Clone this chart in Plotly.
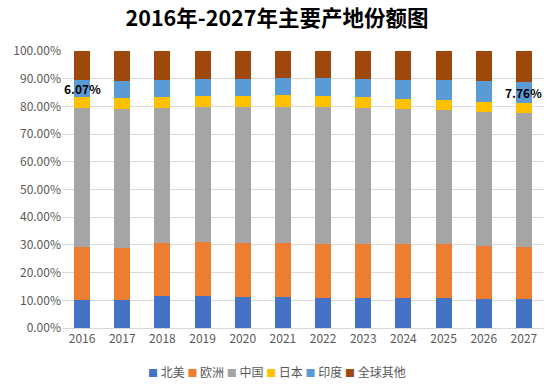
import plotly.graph_objects as go

years = ["2016", "2017", "2018", "2019", "2020", "2021", "2022", "2023", "2024", "2025", "2026", "2027"]
north_america = [10.1, 10.1, 11.6, 11.6, 11.2, 11.2, 10.8, 10.8, 10.8, 10.8, 10.5, 10.5]
europe = [19.3, 18.7, 19.2, 19.6, 19.6, 19.6, 19.6, 19.6, 19.4, 19.4, 19.2, 18.9]
china = [50.1, 50.3, 48.7, 48.7, 49.1, 49.1, 49.5, 49.1, 48.9, 48.6, 48.4, 48.2]
japan = [4.0, 4.0, 4.0, 4.0, 4.0, 4.3, 4.0, 4.0, 3.7, 3.6, 3.6, 3.6]
india = [6.07, 6.1, 6.0, 6.1, 6.1, 6.2, 6.5, 6.5, 6.8, 7.2, 7.5, 7.76]
rest = [10.43, 10.8, 10.5, 10.0, 10.0, 9.6, 9.6, 10.0, 10.4, 10.4, 10.8, 11.04]

series = [
    ("北美", north_america, "#4472C4"),
    ("欧洲", europe, "#ED7D31"),
    ("中国", china, "#A5A5A5"),
    ("日本", japan, "#FFC000"),
    ("印度", india, "#5B9BD5"),
    ("全球其他", rest, "#9E480E"),
]

font_family = "Noto Sans CJK SC, Microsoft YaHei, sans-serif"
fig = go.Figure()
for name, vals, color in series:
    fig.add_trace(go.Bar(
        x=years, y=[v / 100 for v in vals], name=name,
        marker=dict(color=color, line=dict(width=0)),
        showlegend=False,
    ))

# labels for India share in first and last year (x as category index)
for idx in (0, len(years) - 1):
    base = north_america[idx] + europe[idx] + china[idx] + japan[idx]
    mid = (base + india[idx] / 2) / 100
    fig.add_annotation(
        x=idx, y=mid, text=f"<b>{india[idx]:.2f}%</b>", showarrow=False,
        font=dict(size=12, color="#000000", family=font_family),
    )

# compact legend (Excel style)
legend_text = " ".join(
    f"<span style='color:{color};font-size:10px'>■</span> {name}" for name, _, color in series
)
fig.add_annotation(
    xref="paper", yref="paper", x=0.446, y=-0.158, xanchor="center", yanchor="middle",
    text=legend_text, showarrow=False,
    font=dict(size=12, color="#595959", family=font_family),
)

fig.update_layout(
    width=554, height=389,
    barmode="stack", bargap=0.6,
    paper_bgcolor="white", plot_bgcolor="white",
    margin=dict(l=62, r=10, t=51, b=61),
    title=dict(text="<b>2016年-2027年主要产地份额图</b>", x=0.5, xanchor="center",
               y=0.952, yanchor="middle",
               font=dict(size=21.5, color="#000000", family=font_family)),
    font=dict(family=font_family, color="#595959", size=12),
    showlegend=False,
)
fig.update_yaxes(range=[0, 1], tickformat=".2%", dtick=0.1, showgrid=True,
                 gridcolor="#D9D9D9", gridwidth=1, zeroline=False,
                 tickfont=dict(size=12, color="#595959"), ticks="", ticklen=0)
fig.update_xaxes(type="category", range=[-0.5, len(years) - 0.5], showline=True,
                 linecolor="#D9D9D9", tickfont=dict(size=12, color="#595959"), ticks="")

fig.write_html("out.html", config={"displayModeBar": False},
               post_script="document.body.style.margin='0px';")
